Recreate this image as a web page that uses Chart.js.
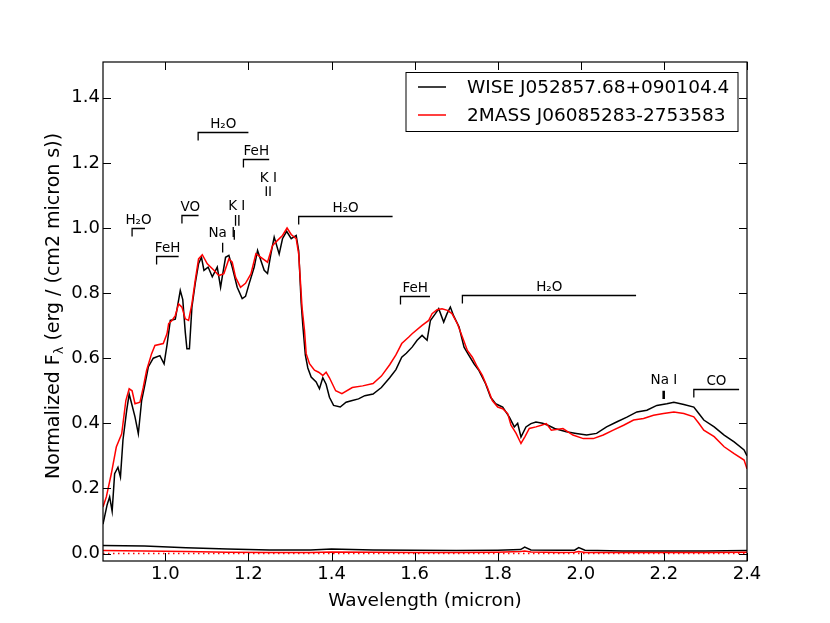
<!DOCTYPE html>
<html>
<head>
<meta charset="utf-8">
<script src="https://cdn.jsdelivr.net/npm/chart.js@4.4.1/dist/chart.umd.min.js"></script>
<style>
  body { margin: 0; background: #fff; }
  #spec { display: block; }
</style>
</head>
<body>
<canvas id="spec" width="830" height="623"></canvas>
<script>
// Spektra (vaglangd i mikron, normaliserat flode)
const wiseWave = [0.850, 0.855, 0.860, 0.866, 0.872, 0.878, 0.886, 0.892, 0.898, 0.907, 0.913, 0.919, 0.927, 0.935, 0.943, 0.951, 0.959, 0.971, 0.987, 0.997,
  1.004, 1.012, 1.024, 1.036, 1.042, 1.048, 1.052, 1.058, 1.064, 1.072, 1.080, 1.087, 1.093, 1.103, 1.113, 1.125, 1.133, 1.137, 1.145, 1.153,
  1.161, 1.173, 1.185, 1.193, 1.202, 1.214, 1.222, 1.230, 1.238, 1.246, 1.254, 1.262, 1.274, 1.282, 1.292, 1.303, 1.315, 1.321, 1.327, 1.331,
  1.337, 1.343, 1.351, 1.363, 1.371, 1.379, 1.387, 1.395, 1.405, 1.421, 1.435, 1.450, 1.465, 1.480, 1.500, 1.520, 1.540, 1.555, 1.569, 1.580,
  1.594, 1.606, 1.618, 1.630, 1.638, 1.650, 1.658, 1.670, 1.678, 1.686, 1.694, 1.707, 1.719, 1.731, 1.743, 1.755, 1.771, 1.783, 1.795, 1.812,
  1.828, 1.840, 1.848, 1.856, 1.868, 1.880, 1.892, 1.908, 1.921, 1.937, 1.965, 1.989, 2.014, 2.038, 2.062, 2.086, 2.111, 2.135, 2.159, 2.183,
  2.207, 2.224, 2.248, 2.272, 2.284, 2.296, 2.321, 2.345, 2.369, 2.393, 2.400];
const wiseFlux = [0.09, 0.12, 0.15, 0.174, 0.13, 0.245, 0.265, 0.235, 0.348, 0.44, 0.49, 0.46, 0.42, 0.368, 0.47, 0.52, 0.573, 0.60, 0.608, 0.583,
  0.64, 0.716, 0.72, 0.808, 0.78, 0.68, 0.629, 0.629, 0.757, 0.83, 0.89, 0.91, 0.87, 0.88, 0.85, 0.88, 0.818, 0.85, 0.91, 0.916,
  0.88, 0.818, 0.783, 0.79, 0.83, 0.88, 0.931, 0.90, 0.87, 0.86, 0.92, 0.972, 0.92, 0.967, 0.99, 0.967, 0.977, 0.93, 0.77, 0.70,
  0.61, 0.57, 0.542, 0.527, 0.506, 0.54, 0.52, 0.48, 0.455, 0.45, 0.465, 0.47, 0.475, 0.485, 0.49, 0.51, 0.54, 0.565, 0.603, 0.615,
  0.634, 0.655, 0.67, 0.655, 0.716, 0.737, 0.752, 0.711, 0.737, 0.757, 0.73, 0.696, 0.634, 0.608, 0.583, 0.562, 0.521, 0.48, 0.46, 0.45,
  0.419, 0.389, 0.40, 0.358, 0.389, 0.399, 0.404, 0.40, 0.394, 0.384, 0.374, 0.369, 0.364, 0.369, 0.389, 0.404, 0.419, 0.435, 0.44, 0.455,
  0.46, 0.465, 0.458, 0.45, 0.43, 0.41, 0.389, 0.364, 0.343, 0.318, 0.30];

const massWave = [0.850, 0.858, 0.870, 0.882, 0.895, 0.905, 0.913, 0.920, 0.927, 0.939, 0.947, 0.955, 0.967, 0.975, 0.995, 1.004, 1.008, 1.016, 1.024, 1.032,
  1.040, 1.048, 1.056, 1.064, 1.072, 1.080, 1.089, 1.101, 1.117, 1.129, 1.141, 1.153, 1.161, 1.169, 1.181, 1.193, 1.206, 1.218, 1.230, 1.246,
  1.258, 1.270, 1.282, 1.293, 1.303, 1.315, 1.321, 1.325, 1.329, 1.335, 1.339, 1.347, 1.359, 1.369, 1.379, 1.387, 1.395, 1.410, 1.425, 1.450,
  1.475, 1.500, 1.520, 1.540, 1.555, 1.569, 1.586, 1.594, 1.618, 1.634, 1.642, 1.654, 1.666, 1.679, 1.690, 1.703, 1.715, 1.727, 1.739, 1.751,
  1.763, 1.775, 1.787, 1.800, 1.812, 1.824, 1.832, 1.844, 1.856, 1.866, 1.876, 1.892, 1.905, 1.917, 1.929, 1.957, 1.981, 2.006, 2.030, 2.054,
  2.078, 2.103, 2.127, 2.151, 2.175, 2.199, 2.224, 2.248, 2.272, 2.284, 2.296, 2.321, 2.345, 2.369, 2.393, 2.400];
const massFlux = [0.143, 0.174, 0.245, 0.327, 0.368, 0.47, 0.506, 0.50, 0.46, 0.465, 0.511, 0.563, 0.614, 0.639, 0.645, 0.675, 0.706, 0.716, 0.731, 0.767,
  0.757, 0.721, 0.716, 0.767, 0.839, 0.905, 0.918, 0.89, 0.87, 0.854, 0.86, 0.905, 0.895, 0.849, 0.818, 0.83, 0.859, 0.921, 0.91, 0.895,
  0.946, 0.962, 0.977, 1.0, 0.98, 0.967, 0.92, 0.839, 0.757, 0.685, 0.614, 0.583, 0.563, 0.557, 0.547, 0.557, 0.54, 0.50, 0.491, 0.51,
  0.515, 0.522, 0.545, 0.58, 0.61, 0.645, 0.665, 0.675, 0.701, 0.716, 0.737, 0.749, 0.752, 0.747, 0.737, 0.706, 0.665, 0.624, 0.603, 0.573,
  0.547, 0.511, 0.47, 0.45, 0.445, 0.43, 0.394, 0.37, 0.338, 0.36, 0.384, 0.389, 0.394, 0.399, 0.379, 0.384, 0.364, 0.353, 0.353, 0.364,
  0.379, 0.394, 0.41, 0.415, 0.425, 0.43, 0.435, 0.43, 0.42, 0.40, 0.379, 0.359, 0.328, 0.307, 0.287, 0.26];

// Brus
const noiseWave = [0.85, 0.95, 1.05, 1.15, 1.25, 1.35, 1.40, 1.50, 1.60, 1.70, 1.80, 1.855, 1.865, 1.88, 1.95, 1.985, 1.995, 2.01, 2.10, 2.20, 2.30, 2.40];
const wiseNoise = [0.025, 0.023, 0.018, 0.014, 0.011, 0.011, 0.014, 0.011, 0.010, 0.009, 0.010, 0.012, 0.020, 0.011, 0.010, 0.010, 0.018, 0.010, 0.008, 0.008, 0.008, 0.009];
const massNoise = [0.009, 0.008, 0.006, 0.004, 0.003, 0.003, 0.005, 0.004, 0.003, 0.003, 0.004, 0.006, 0.008, 0.005, 0.003, 0.004, 0.006, 0.003, 0.003, 0.003, 0.003, 0.004];
const zeroWave = [0.85, 2.40];
const zeroLevel = [0, 0];

const xTicks = [1.0, 1.2, 1.4, 1.6, 1.8, 2.0, 2.2, 2.4];
const yTicks = [0.0, 0.2, 0.4, 0.6, 0.8, 1.0, 1.2, 1.4];

// Absorptionsband (hakar)
const bandLabels = ['H₂O', 'FeH', 'VO', 'H₂O', 'FeH', 'H₂O', 'FeH', 'H₂O', 'CO'];
const bandStart = [0.920, 0.979, 1.040, 1.079, 1.188, 1.321, 1.566, 1.715, 2.272];
const bandEnd = [0.951, 1.032, 1.080, 1.200, 1.250, 1.547, 1.637, 2.133, 2.381];
const bandLevel = [1.000, 0.913, 1.040, 1.296, 1.211, 1.036, 0.790, 0.795, 0.504];

// Atomara linjer
const lineLabels = ['Na I', 'K I', 'K I', 'Na I'];
const lineLabelX = [1.136, 1.172, 1.248, 2.200];
const lineLabelY = [0.982, 1.066, 1.151, 0.532];
const lineMarkX = [1.138, 1.169, 1.177, 1.166, 1.243, 1.252, 2.198, 2.201];
const lineMarkTop = [0.955, 1.040, 1.040, 0.994, 1.128, 1.128, 0.500, 0.500];
const lineMarkBottom = [0.925, 1.007, 1.007, 0.964, 1.098, 1.098, 0.475, 0.475];

const FONT = 'DejaVu Sans';

function pairs(xs, ys) {
    return xs.map((x, i) => ({ x: x, y: ys[i] }));
}

// Ram, inatriktade streck, etiketter och legend
const decorPlugin = {
    id: 'decor',
    afterDraw(chart) {
        const ctx = chart.ctx;
        const a = chart.chartArea;
        const xs = chart.scales.x;
        const ys = chart.scales.y;
        ctx.save();
        ctx.strokeStyle = '#000';
        ctx.lineWidth = 1.2;
        ctx.strokeRect(a.left, a.top, a.right - a.left, a.bottom - a.top);

        ctx.lineWidth = 1;
        ctx.beginPath();
        xTicks.forEach(v => {
            const px = Math.round(xs.getPixelForValue(v)) + 0.5;
            ctx.moveTo(px, a.bottom); ctx.lineTo(px, a.bottom - 8);
            ctx.moveTo(px, a.top); ctx.lineTo(px, a.top + 8);
        });
        yTicks.forEach(v => {
            const py = Math.round(ys.getPixelForValue(v)) + 0.5;
            ctx.moveTo(a.left, py); ctx.lineTo(a.left + 8, py);
            ctx.moveTo(a.right, py); ctx.lineTo(a.right - 8, py);
        });
        ctx.stroke();

        // band
        ctx.fillStyle = '#000';
        ctx.font = '13.5px "' + FONT + '"';
        ctx.textAlign = 'center';
        ctx.textBaseline = 'alphabetic';
        ctx.lineWidth = 1.3;
        bandLabels.forEach((lab, i) => {
            const x0 = xs.getPixelForValue(bandStart[i]);
            const x1 = xs.getPixelForValue(bandEnd[i]);
            const y = Math.round(ys.getPixelForValue(bandLevel[i])) + 0.5;
            ctx.beginPath();
            ctx.moveTo(x0, y + 8);
            ctx.lineTo(x0, y);
            ctx.lineTo(x1, y);
            ctx.stroke();
            ctx.fillText(lab, (x0 + x1) / 2, y - 5);
        });

        // linjer
        ctx.textBaseline = 'middle';
        lineLabels.forEach((lab, i) => {
            ctx.fillText(lab, xs.getPixelForValue(lineLabelX[i]), ys.getPixelForValue(lineLabelY[i]));
        });
        ctx.lineWidth = 1.3;
        ctx.beginPath();
        lineMarkX.forEach((v, i) => {
            const px = xs.getPixelForValue(v);
            ctx.moveTo(px, ys.getPixelForValue(lineMarkTop[i]));
            ctx.lineTo(px, ys.getPixelForValue(lineMarkBottom[i]));
        });
        ctx.stroke();

        // axeltitlar
        ctx.font = '18.5px "' + FONT + '"';
        ctx.textAlign = 'center';
        ctx.textBaseline = 'alphabetic';
        ctx.fillText('Wavelength (micron)', (a.left + a.right) / 2, 606);

        const p1 = 'Normalized F';
        const p2 = 'λ';
        const p3 = ' (erg / (cm2 micron s))';
        ctx.font = '19px "' + FONT + '"';
        const w1 = ctx.measureText(p1).width;
        const w3 = ctx.measureText(p3).width;
        ctx.font = '13px "' + FONT + '"';
        const w2 = ctx.measureText(p2).width;
        const total = w1 + w2 + w3;
        ctx.translate(58.5, 306);
        ctx.rotate(-Math.PI / 2);
        ctx.textAlign = 'left';
        ctx.font = '19px "' + FONT + '"';
        ctx.fillText(p1, -total / 2, 0);
        ctx.font = '13px "' + FONT + '"';
        ctx.fillText(p2, -total / 2 + w1, 4);
        ctx.font = '19px "' + FONT + '"';
        ctx.fillText(p3, -total / 2 + w1 + w2, 0);
        ctx.restore();

        // legend
        ctx.save();
        ctx.fillStyle = '#fff';
        ctx.fillRect(406, 72.5, 332, 59);
        ctx.strokeStyle = '#000';
        ctx.lineWidth = 1;
        ctx.strokeRect(406, 72.5, 332, 59);
        const rows = [chart.data.datasets[0], chart.data.datasets[1]];
        const rowY = [87, 115];
        ctx.font = '18.5px "' + FONT + '"';
        ctx.textAlign = 'left';
        ctx.textBaseline = 'middle';
        rows.forEach((ds, i) => {
            ctx.strokeStyle = ds.borderColor;
            ctx.lineWidth = 1.5;
            ctx.beginPath();
            ctx.moveTo(418, rowY[i]);
            ctx.lineTo(446, rowY[i]);
            ctx.stroke();
            ctx.fillStyle = '#000';
            ctx.fillText(ds.label, 467, rowY[i] + 1);
        });
        ctx.restore();
    }
};

const ctx = document.getElementById('spec').getContext('2d');

new Chart(ctx, {
    type: 'line',
    data: {
        datasets: [
            { label: 'WISE J052857.68+090104.4', data: pairs(wiseWave, wiseFlux), borderColor: '#000', borderWidth: 1.5, order: 2 },
            { label: '2MASS J06085283-2753583', data: pairs(massWave, massFlux), borderColor: '#ff0000', borderWidth: 1.5, order: 1 },
            { label: 'wise noise', data: pairs(noiseWave, wiseNoise), borderColor: '#000', borderWidth: 1.5, order: 4 },
            { label: '2mass noise', data: pairs(noiseWave, massNoise), borderColor: '#ff0000', borderWidth: 1.5, order: 3 },
            { label: 'zero', data: pairs(zeroWave, zeroLevel), borderColor: '#ff0000', borderWidth: 1.5, borderDash: [1.5, 3.5], order: 5 }
        ]
    },
    options: {
        responsive: false,
        animation: false,
        devicePixelRatio: 1,
        layout: { padding: { top: 62, right: 83, left: 0, bottom: 0 } },
        elements: { point: { radius: 0 }, line: { tension: 0, fill: false } },
        plugins: { legend: { display: false }, tooltip: { enabled: false } },
        scales: {
            x: {
                type: 'linear',
                min: 0.85,
                max: 2.4,
                grid: { display: false, drawTicks: false },
                border: { display: false },
                afterBuildTicks: s => { s.ticks = xTicks.map(v => ({ value: v })); },
                afterFit: s => { s.height = 62; },
                ticks: {
                    padding: 3,
                    color: '#000',
                    font: { family: FONT, size: 18 },
                    callback: v => Number(v).toFixed(1)
                }
            },
            y: {
                min: -0.023,
                max: 1.51,
                grid: { display: false, drawTicks: false },
                border: { display: false },
                afterBuildTicks: s => { s.ticks = yTicks.map(v => ({ value: v })); },
                afterFit: s => { s.width = 103; },
                ticks: {
                    padding: 3,
                    color: '#000',
                    font: { family: FONT, size: 18 },
                    callback: v => Number(v).toFixed(1)
                }
            }
        }
    },
    plugins: [decorPlugin]
});
</script>
</body>
</html>
